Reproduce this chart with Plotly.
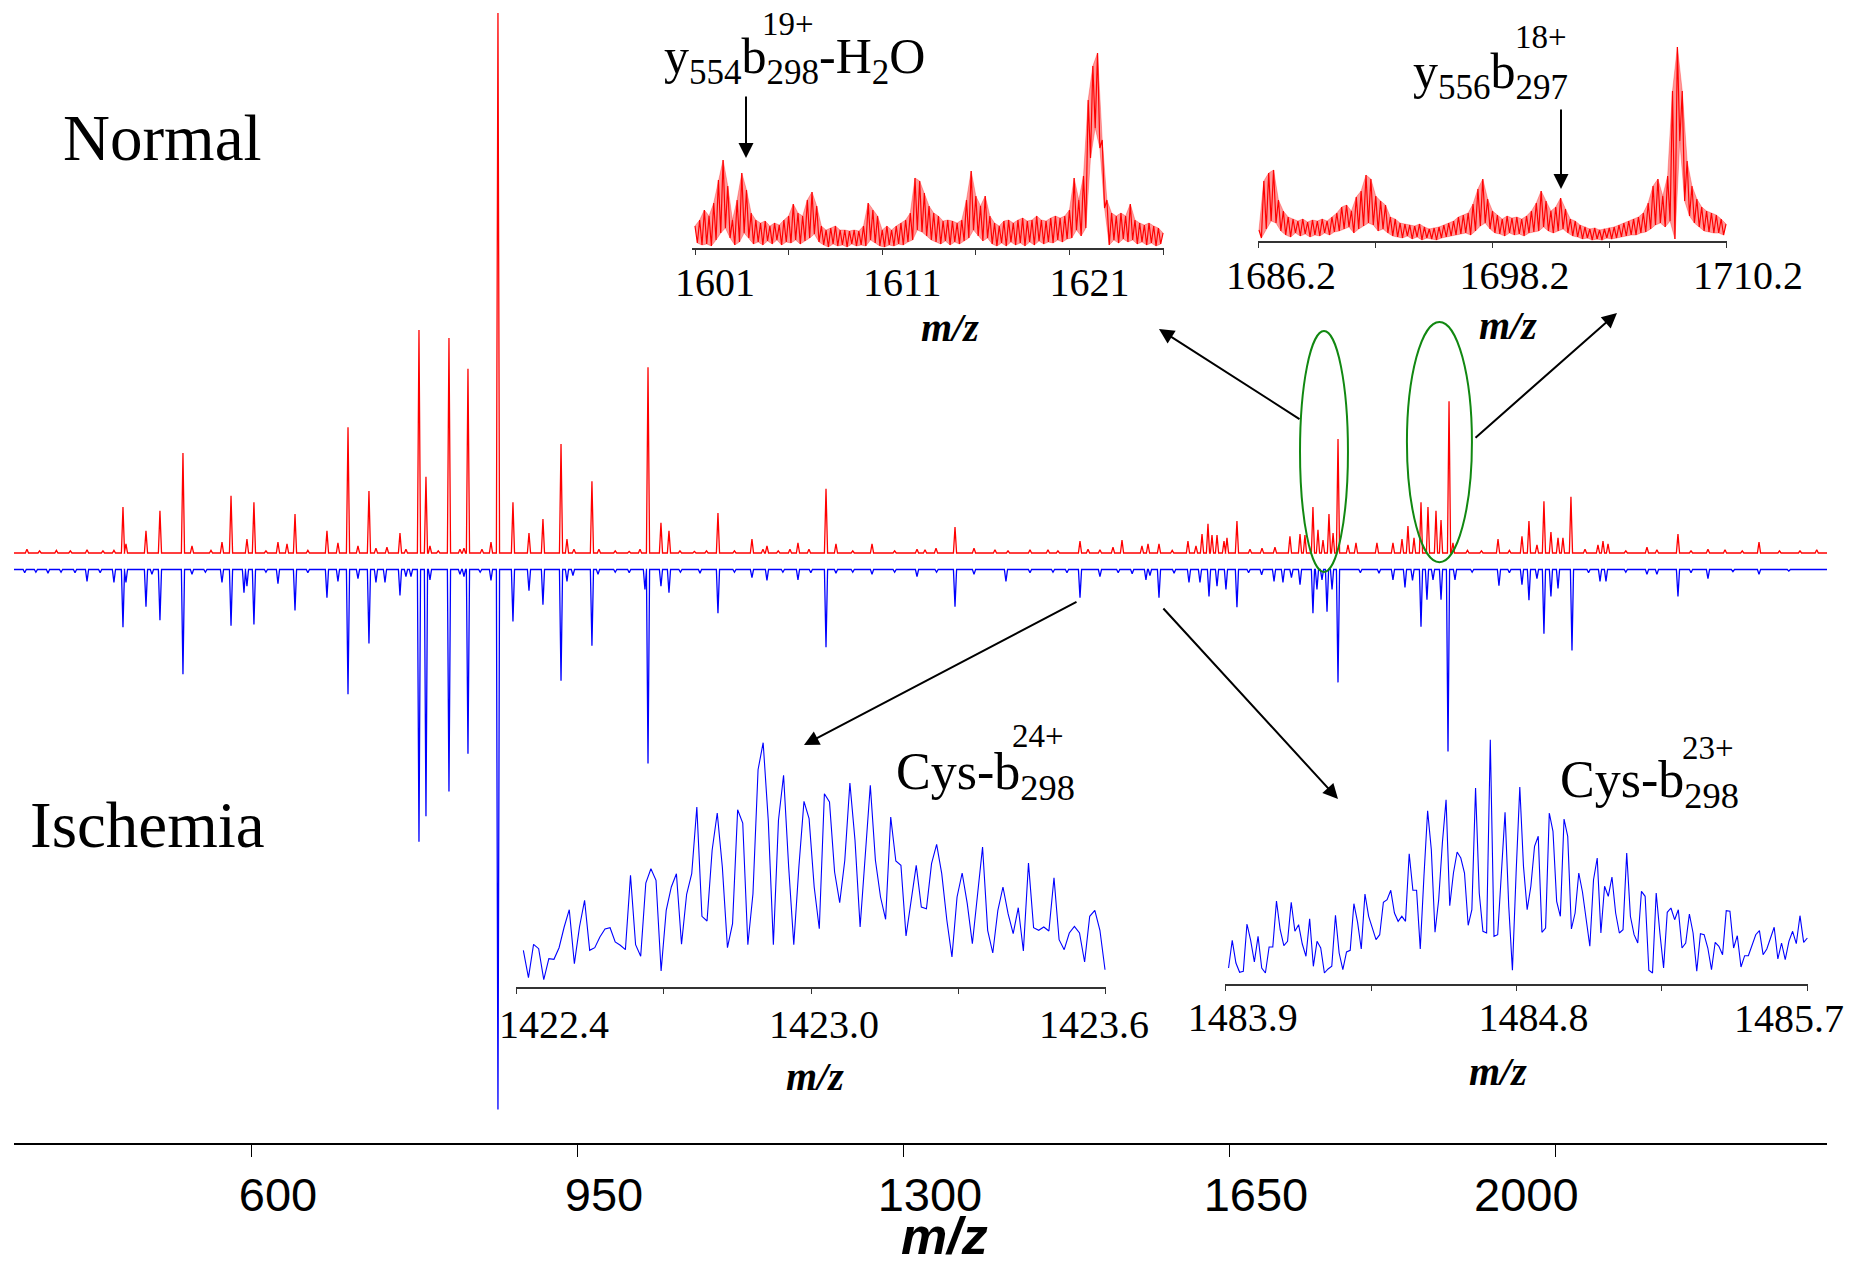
import plotly.graph_objects as go

W, H = 1854, 1261

# ---------------- main spectrum data (m/z, relative intensity %) ----------------
normal_mz = [358.4, 372, 390, 405, 422.9, 440, 451.8, 461.5, 464.7, 486.2, 501.2, 525.9, 535.6, 556, 567.8, 577.5,
             594.6, 602.1, 615, 627.9, 637.6, 646.2, 660, 680.5, 692.3, 703.1, 713.8, 725.6, 733.1, 744.9, 758.9,
             765.3, 779.3, 786.8, 791.1, 800, 811.5, 823.3, 827.6, 831.9, 846.9, 856.6, 864.1, 880.2, 897.4, 912.4,
             931.8, 938.2, 945.7, 965.0, 972.5, 990, 1005, 1016.6, 1025.2, 1039.1, 1047.7, 1059.5, 1075, 1088,
             1100.3, 1118, 1136.8, 1148.6, 1152.9, 1165, 1177.6, 1186.2, 1198.0, 1216.3, 1227.0, 1245, 1265.7, 1290,
             1314.0, 1322.6, 1334.4, 1354.8, 1375.2, 1397.7, 1411.7, 1435.3, 1454.6, 1465.3, 1489.0, 1497.6, 1510.4,
             1524.4, 1534.1, 1555.5, 1562.0, 1573.8, 1588, 1604.9, 1613.5, 1620.0, 1626.4, 1630.7, 1636.1, 1643.6,
             1646.8, 1657.5, 1671.5, 1684.4, 1698.3, 1714.4, 1725.2, 1730.5, 1739.1, 1744.5, 1749.9, 1756.3, 1760.7,
             1766.0, 1776.7, 1785.3, 1807.8, 1825.0, 1834.7, 1841.1, 1847.6, 1855.1, 1862.6, 1871.2, 1876.6, 1885.2,
             1889.4, 1905, 1920, 1937.8, 1950, 1963.5, 1971.0, 1979.6, 1987.1, 1994.6, 2002.2, 2007.5, 2016.1, 2031.2,
             2045.1, 2050.5, 2055.9, 2075, 2097.7, 2108.4, 2131.0, 2145, 2163.2, 2181.5, 2200, 2218.0, 2240, 2262.0,
             2280]
normal_int = [0.7, 0.4, 0.5, 0.4, 0.6, 0.4, 0.5, 8.5, 1.7, 4.1, 7.8, 18.5, 1.3, 0.5, 2.0, 10.6,
              2.6, 9.4, 0.4, 2.0, 1.7, 7.2, 0.5, 4.1, 1.9, 23.3, 1.3, 11.5, 0.9, 1.1, 3.7,
              0.7, 41.3, 14.1, 1.3, 0.4, 39.8, 0.7, 0.9, 34.1, 0.7, 2.0, 100, 9.4, 3.7, 6.3,
              20.2, 2.6, 0.7, 13.3, 0.7, 0.4, 0.3, 0.7, 34.4, 5.6, 4.1, 0.4, 0.3, 0.4,
              7.4, 0.4, 2.6, 0.7, 1.3, 0.4, 0.7, 1.9, 0.7, 11.9, 1.7, 0.4, 1.7, 0.4,
              0.7, 0.6, 0.9, 4.8, 0.9, 0.6, 0.4, 0.6, 0.6, 0.4, 2.2, 0.7, 0.6,
              1.1, 2.4, 1.3, 1.7, 1.7, 0.5, 2.2, 1.3, 3.5, 5.4, 3.3, 3.3, 2.2,
              2.8, 5.9, 0.7, 0.9, 1.1, 3.1, 3.5, 3.3, 8.5, 4.3, 2.4, 7.2, 3.7,
              21.1, 1.5, 1.9, 1.9, 1.9, 2.6, 5.0, 2.8, 9.4, 8.5, 7.8, 6.1, 28.1,
              1.9, 0.5, 0.4, 2.6, 0.5, 3.1, 5.9, 1.5, 9.6, 3.9, 2.8, 2.8, 10.4, 0.7,
              1.5, 2.2, 1.7, 0.4, 1.1, 0.6, 3.5, 0.4, 0.7, 0.6, 0.4, 2.0, 0.4, 0.4,
              0.6]

ischemia_mz = [356, 368, 381, 395, 410, 422.9, 437, 451.8, 461.5, 464.7, 486.2, 492.6, 501.2, 525.9, 535.6, 550,
               567.8, 577.5, 591.4, 594.6, 602.1, 615, 627.9, 646.2, 660, 680.5, 692.3, 703.1, 713.8, 725.6, 733.1,
               742.8, 758.9, 765.3, 770.7, 779.3, 786.8, 791.1, 811.5, 823.3, 827.6, 831.9, 845, 856.6, 864.1, 880.2,
               897.4, 912.4, 931.8, 938.2, 944.6, 965.0, 971.5, 990, 1005, 1021.9, 1025.2, 1039.1, 1047.7, 1060,
               1081.0, 1100.3, 1118, 1136.8, 1152.9, 1170, 1186.2, 1200, 1216.3, 1227.0, 1245, 1265.7, 1290, 1314.0,
               1335, 1354.8, 1375.2, 1409.5, 1435.3, 1460, 1475, 1489.0, 1510.4, 1530, 1545, 1559.8, 1564.1, 1573.8,
               1590, 1606.0, 1617.8, 1627.5, 1636.1, 1645.7, 1657.5, 1670, 1684, 1697.3, 1706.9, 1716, 1725.2, 1739.1,
               1743.4, 1748.8, 1754.2, 1759.6, 1766.0, 1790, 1810, 1825.0, 1837.9, 1846, 1855.1, 1861.5, 1868.0,
               1876.6, 1884.1, 1891.6, 1910, 1938.8, 1950, 1963.5, 1971.0, 1979.6, 1987.1, 1994.6, 2002.2, 2017.2,
               2035, 2047.3, 2053.7, 2075, 2097.7, 2108.4, 2131.0, 2145, 2163.2, 2190, 2218.0, 2250]
ischemia_int = [0.6, 0.5, 0.7, 0.5, 0.6, 2.2, 0.6, 2.4, 10.7, 2.4, 6.9, 0.9, 9.4, 19.4, 0.9, 0.5,
                2.4, 10.4, 4.3, 3.1, 10.2, 0.5, 2.6, 7.6, 0.6, 5.2, 2.2, 23.1, 1.7, 13.7, 2.4,
                2.4, 4.8, 1.3, 1.3, 50.4, 45.7, 1.9, 41.1, 0.9, 1.3, 34.1, 0.5, 2.0, 100, 9.6,
                3.9, 6.5, 20.6, 2.2, 1.1, 14.1, 0.9, 0.5, 0.6, 3.7, 35.9, 3.1, 4.3, 0.5,
                0.7, 8.1, 0.5, 1.5, 2.0, 0.5, 1.9, 0.6, 14.4, 0.7, 0.5, 0.9, 0.5, 1.3,
                0.5, 6.9, 0.9, 2.2, 0.6, 0.5, 0.6, 5.2, 1.3, 0.6, 0.8, 1.9, 1.1, 5.2,
                0.7, 2.4, 2.4, 5.0, 3.1, 3.7, 7.0, 0.6, 1.0, 2.2, 2.4, 1.5, 2.8, 8.1,
                3.7, 1.9, 7.8, 3.7, 20.9, 0.6, 0.7, 1.9, 3.3, 2.0, 10.6, 5.6, 1.9,
                5.6, 33.7, 1.9, 0.5, 3.0, 0.6, 2.8, 5.7, 1.7, 11.9, 5.0, 3.5, 15.0,
                0.6, 2.2, 2.2, 0.5, 0.9, 0.9, 5.0, 0.6, 1.7, 0.4, 0.9, 0.3]

main_ticks = [600, 950, 1300, 1650, 2000]
main_ticktext = ["600", "950", "1300", "1650", "2000"]

# ---------------- inset data ----------------
# inset 1 (Normal, m/z 1601-1626), sampled every 0.25: upper/lower envelope of the noisy profile
inset1_start, inset1_step = 1601.0, 0.25
inset1_upper = [22, 28, 38, 32, 45, 68, 88, 62, 28, 48,
                75, 58, 35, 28, 25, 27, 22, 25, 23, 28,
                32, 44, 35, 32, 48, 56, 42, 22, 18, 20,
                22, 18, 18, 17, 18, 17, 22, 45, 38, 32,
                18, 22, 18, 22, 25, 28, 35, 70, 67, 55,
                42, 35, 32, 27, 28, 27, 25, 28, 48, 77,
                52, 42, 52, 32, 25, 22, 27, 28, 25, 28,
                30, 27, 28, 32, 28, 27, 30, 32, 30, 32,
                38, 70, 48, 72, 148, 182, 195, 108, 48, 35,
                32, 35, 32, 44, 28, 25, 23, 25, 22, 20,
                15]
inset1_lower = [5, 3, 4, 2, 8, 15, 20, 10, 3, 6,
                15, 10, 4, 6, 3, 7, 4, 8, 3, 6,
                5, 8, 4, 7, 10, 14, 6, 3, 1, 4,
                2, 3, 1, 4, 2, 3, 2, 8, 5, 2,
                1, 3, 2, 4, 3, 6, 8, 18, 16, 12,
                8, 6, 4, 7, 3, 6, 4, 7, 10, 18,
                12, 7, 10, 4, 2, 5, 2, 6, 3, 5,
                2, 6, 3, 7, 4, 6, 5, 8, 6, 9,
                10, 18, 12, 20, 90, 120, 100, 40, 3, 8,
                5, 9, 6, 8, 4, 6, 3, 5, 2, 4]
inset1_ticks = [1601, 1606, 1611, 1616, 1621, 1626]
inset1_ticktext = ["1601", "", "1611", "", "1621", ""]

# inset 2 (Normal, m/z 1686.2-1710.2)
inset2_start, inset2_step = 1686.2, 0.25
inset2_upper = [11, 60, 68, 71, 41, 30, 24, 22, 20, 22,
                19, 21, 20, 22, 20, 24, 28, 34, 36, 30,
                44, 50, 66, 62, 45, 40, 36, 24, 22, 18,
                17, 16, 15, 17, 14, 12, 13, 14, 16, 18,
                20, 24, 26, 28, 37, 52, 62, 42, 30, 26,
                22, 25, 23, 24, 22, 25, 30, 38, 50, 40,
                30, 34, 43, 32, 22, 20, 16, 14, 12, 13,
                11, 12, 13, 14, 16, 18, 20, 22, 24, 28,
                38, 55, 62, 45, 65, 150, 194, 150, 80, 55,
                42, 34, 30, 28, 26, 22, 17]
inset2_lower = [3, 12, 20, 18, 10, 6, 4, 8, 5, 7,
                4, 6, 5, 8, 6, 9, 10, 12, 14, 8,
                12, 15, 18, 16, 10, 12, 8, 5, 4, 3,
                5, 2, 4, 1, 3, 2, 1, 3, 4, 5,
                6, 7, 8, 6, 10, 15, 18, 12, 8, 7,
                5, 8, 6, 7, 5, 8, 9, 10, 14, 10,
                8, 10, 12, 8, 5, 4, 2, 3, 1, 2,
                1, 3, 2, 3, 4, 5, 6, 6, 8, 9,
                12, 16, 18, 14, 20, 2, 100, 40, 25, 18,
                14, 10, 9, 8, 8, 6]
inset2_ticks = [1686.2, 1692.2, 1698.2, 1704.2, 1710.2]
inset2_ticktext = ["1686.2", "", "1698.2", "", "1710.2"]

# inset 3 (Ischemia, Cys-b298 24+, m/z 1422.41-1423.6)
inset3_first, inset3_last = 1422.413, 1423.6
inset3_int = [36.7, 9.3, 42.7, 38.3, 7.3, 28.3, 27.7, 39.3, 60, 77.3,
              23.3, 60, 86.7, 36.7, 39.3, 50, 58, 59.3, 45, 41.7,
              37.3, 111.7, 42.3, 30.7, 104, 118.3, 106.7, 16, 76.7, 100,
              113.3, 42.7, 92.7, 113.3, 180, 70.7, 66, 136.7, 174, 120,
              39.3, 63.3, 177.3, 164, 42.3, 93.3, 217.3, 244.3, 166.7, 42.3,
              166.7, 211.7, 120, 42.3, 120, 185.7, 168.3, 100, 58.3, 193.3,
              185, 115, 84.3, 126.7, 204, 146.7, 60, 126.7, 201.7, 126.7,
              90, 67.7, 170, 126, 121.7, 51, 86.7, 121.7, 80, 78.3,
              123.3, 142.7, 113.3, 66.7, 30, 90, 114, 83.3, 43.3, 90,
              140, 56.7, 34, 76.7, 100, 73.3, 53.3, 79.3, 36, 124,
              59.3, 56.7, 60, 56, 109.3, 47.3, 37.3, 54, 60.7, 54,
              25, 70.7, 76.7, 56.7, 17.3]
inset3_ticks = [1422.4, 1422.7, 1423.0, 1423.3, 1423.6]
inset3_ticktext = ["1422.4", "", "1423.0", "", "1423.6"]

# inset 4 (Ischemia, Cys-b298 23+, m/z 1483.91-1485.7)
inset4_first, inset4_last = 1483.909, 1485.7
inset4_int = [16, 43.7, 21, 11.7, 12.7, 60, 43.7, 22, 47.7, 16,
              11, 37, 37, 83, 54.3, 38.3, 42.7, 81.7, 52.7, 59.3,
              40, 27.7, 65.3, 17.7, 42.7, 36, 11, 15, 17.7, 68.7,
              31, 14.3, 32, 33.7, 80.3, 61.7, 35, 90, 67.7, 56,
              44.3, 49.3, 81.7, 84.3, 93.7, 71, 62.7, 67.7, 62.7, 130.3,
              93.7, 93.7, 35, 107.7, 173.3, 134.3, 51.7, 84.3, 141, 184.3,
              78.3, 111, 132, 126, 111, 58.7, 74.3, 196, 91, 52.7,
              51, 244.3, 47.7, 49.3, 111, 171.7, 77.7, 13.7, 111, 197,
              117.7, 74.3, 97.7, 137.7, 147.7, 51.7, 56, 171, 152.7, 82.7,
              67.7, 165, 147.7, 55, 71, 111, 92, 64.3, 37.7, 104.3,
              126, 51, 97.7, 87.7, 107, 71, 51, 54.3, 131, 67.7,
              49.3, 41, 92.7, 87.7, 13.7, 11, 91, 51, 16, 71.7,
              76, 64.3, 74.3, 36, 41, 70, 51, 12.7, 50.3, 49.3,
              36, 14.3, 41.7, 37.7, 29.3, 73.3, 72.7, 36, 48.3, 17,
              28.3, 28.3, 38.3, 49.3, 53.3, 29.3, 35, 46, 56.7, 25,
              41, 24.3, 42.7, 52.7, 40.3, 68.3, 41.7, 46]
inset4_ticks = [1483.9, 1484.35, 1484.8, 1485.25, 1485.7]
inset4_ticktext = ["1483.9", "", "1484.8", "", "1485.7"]

# ---------------- helpers ----------------
def PX(x):
    return x / W


def PY(y):
    return 1 - y / H


MZ_LO, MZ_HI = 344.5, 2291.0
BLUE_OFFSET = -3.06
HALF_W = 1.7


def stick_profile(mz, inten, sign=1.0, offset=0.0):
    xs, ys = [MZ_LO], [offset]
    for m, i in sorted(zip(mz, inten)):
        xs += [m - HALF_W, m, m + HALF_W]
        ys += [offset, offset + sign * i, offset]
    xs.append(MZ_HI)
    ys.append(offset)
    return xs, ys


def envelope_line(start, step, upper, lower):
    xs, ys = [], []
    for k, u in enumerate(upper):
        xs.append(start + step * k)
        ys.append(u)
        if k < len(lower):
            xs.append(start + step * (k + 0.5))
            ys.append(lower[k])
    return xs, ys


def grid(first, last, n):
    step = (last - first) / (n - 1)
    return [first + step * k for k in range(n)]


fig = go.Figure()

rx, ry = stick_profile(normal_mz, normal_int)
bx, by = stick_profile(ischemia_mz, ischemia_int, sign=-1.0, offset=BLUE_OFFSET)
fig.add_trace(go.Scatter(x=rx, y=ry, mode="lines", line=dict(color="#FF0000", width=1.3),
                         xaxis="x", yaxis="y", hoverinfo="skip", name="Normal"))
fig.add_trace(go.Scatter(x=bx, y=by, mode="lines", line=dict(color="#0000FF", width=1.3),
                         xaxis="x", yaxis="y", hoverinfo="skip", name="Ischemia"))


def add_red_inset(start, step, upper, lower, xa, ya):
    lx = [start + step * (k + 0.5) for k in range(len(lower))]
    ux = [start + step * k for k in range(len(upper))]
    fig.add_trace(go.Scatter(x=lx, y=lower, mode="lines", line=dict(color="rgba(255,0,0,0.5)", width=0.6),
                             xaxis=xa, yaxis=ya, hoverinfo="skip"))
    fig.add_trace(go.Scatter(x=ux, y=upper, mode="lines", line=dict(color="rgba(255,0,0,0.5)", width=0.6),
                             fill="tonexty", fillcolor="rgba(255,0,0,0.4)",
                             xaxis=xa, yaxis=ya, hoverinfo="skip"))
    zx, zy = envelope_line(start, step, upper, lower)
    fig.add_trace(go.Scatter(x=zx, y=zy, mode="lines", line=dict(color="#FF0000", width=1.2),
                             xaxis=xa, yaxis=ya, hoverinfo="skip"))


add_red_inset(inset1_start, inset1_step, inset1_upper, inset1_lower, "x2", "y2")
add_red_inset(inset2_start, inset2_step, inset2_upper, inset2_lower, "x3", "y3")
fig.add_trace(go.Scatter(x=grid(inset3_first, inset3_last, len(inset3_int)), y=inset3_int, mode="lines",
                         line=dict(color="#0000FF", width=1.1), xaxis="x4", yaxis="y4", hoverinfo="skip"))
fig.add_trace(go.Scatter(x=grid(inset4_first, inset4_last, len(inset4_int)), y=inset4_int, mode="lines",
                         line=dict(color="#0000FF", width=1.1), xaxis="x5", yaxis="y5", hoverinfo="skip"))

SERIF = "Liberation Serif, Times New Roman, serif"
SANS = "Liberation Sans, Arial, sans-serif"

# tick labels that sit off-centre from their tick in the reference are drawn separately
main_tt = [t if v != 2000 else "" for v, t in zip(main_ticks, main_ticktext)]
inset3_tt = [t if v == 1423.0 else "" for v, t in zip(inset3_ticks, inset3_ticktext)]
inset4_tt = [t if v != 1485.7 else "" for v, t in zip(inset4_ticks, inset4_ticktext)]


def inset_xaxis(dom, rng, tv, tt, anchor, shift, standoff):
    return dict(domain=dom, range=rng, anchor=anchor, showline=True, linecolor="#333333", linewidth=1.5,
                ticks="outside", ticklen=5, tickwidth=1, tickcolor="#333333", tickvals=tv, ticktext=tt,
                tickfont=dict(family=SERIF, size=40, color="black"), showgrid=False, zeroline=False,
                ticklabelshift=shift, ticklabelstandoff=standoff, automargin=False,
                ticklabeloverflow="allow")


def inset_yaxis(dom, rng, anchor):
    return dict(domain=dom, range=rng, anchor=anchor, visible=False, showgrid=False, zeroline=False,
                automargin=False)


fig.update_layout(
    width=W, height=H, margin=dict(l=0, r=0, t=0, b=0, pad=0, autoexpand=False), showlegend=False,
    autosize=False, paper_bgcolor="white", plot_bgcolor="rgba(0,0,0,0)",
    xaxis=dict(domain=[PX(14), PX(1827)], range=[MZ_LO, MZ_HI], anchor="y", showline=True,
               linecolor="black", linewidth=2, ticks="outside", ticklen=12, tickwidth=1, tickcolor="black",
               tickvals=main_ticks, ticktext=main_tt,
               tickfont=dict(family=SANS, size=47, color="black"), showgrid=False, zeroline=False,
               ticklabelstandoff=-2, ticklabelshift=26, automargin=False),
    yaxis=dict(domain=[PY(1143), 1], range=[(553 - 1143) / 5.4, 553 / 5.4], anchor="x", visible=False,
               automargin=False),
    xaxis2=inset_xaxis([PX(692), PX(1164)], [1600.84, 1626.05], inset1_ticks, inset1_ticktext, "y2", 20, -7),
    yaxis2=inset_yaxis([PY(248), PY(40)], [0, 208], "x2"),
    xaxis3=inset_xaxis([PX(1258), PX(1727)], [1686.15, 1710.25], inset2_ticks, inset2_ticktext, "y3", 22, -7),
    yaxis3=inset_yaxis([PY(241), PY(33)], [0, 208], "x3"),
    xaxis4=inset_xaxis([PX(516), PX(1106)], [1422.398, 1423.602], inset3_ticks, inset3_tt, "y4", 13, -4),
    yaxis4=inset_yaxis([PY(987), PY(727)], [0, 260], "x4"),
    xaxis5=inset_xaxis([PX(1225), PX(1808)], [1483.898, 1485.702], inset4_ticks, inset4_tt, "y5", 17, -8),
    yaxis5=inset_yaxis([PY(984), PY(724)], [0, 260], "x5"),
)

# green ellipses around the zoomed regions (main-axis data coords)
for x0, x1, y0, y1 in [(1725.2, 1776.7, -3.5, 41.1), (1840.0, 1909.8, -1.7, 42.8)]:
    fig.add_shape(type="circle", xref="x", yref="y", x0=x0, x1=x1, y0=y0, y1=y1,
                  line=dict(color="#118811", width=2))

annotations = []


def text_ann(text, x, y, size, family, xanchor="center", yanchor="middle"):
    annotations.append(dict(text=text, x=PX(x), y=PY(y), xref="paper", yref="paper", showarrow=False,
                            xanchor=xanchor, yanchor=yanchor, font=dict(family=family, size=size, color="black")))


def tick_ann(text, xval, xref, xshift, ypx, size, family):
    annotations.append(dict(text=text, x=xval, y=PY(ypx), xref=xref, yref="paper", showarrow=False,
                            xshift=xshift, xanchor="center", yanchor="middle",
                            font=dict(family=family, size=size, color="black")))


tick_ann(main_ticktext[4], main_ticks[4], "x", -29, 1194, 47, SANS)
tick_ann(inset3_ticktext[0], inset3_ticks[0], "x4", 37, 1024, 40, SERIF)
tick_ann(inset3_ticktext[4], inset3_ticks[4], "x4", -11, 1024, 40, SERIF)
tick_ann(inset4_ticktext[4], inset4_ticks[4], "x5", -18, 1018, 40, SERIF)

text_ann("Normal", 162, 138, 65, SERIF)
text_ann("Ischemia", 147, 825, 65, SERIF)
text_ann("y<sub>554</sub>b<sub>298</sub>-H<sub>2</sub>O", 662, 60, 50, SERIF, xanchor="left")
text_ann("19+", 788, 24, 33, SERIF)
text_ann("y<sub>556</sub>b<sub>297</sub>", 1411, 75, 50, SERIF, xanchor="left")
text_ann("18+", 1541, 37, 33, SERIF)
text_ann("Cys-b<sub>298</sub>", 894, 775, 52, SERIF, xanchor="left")
text_ann("24+", 1038, 736, 33, SERIF)
text_ann("Cys-b<sub>298</sub>", 1558, 783, 52, SERIF, xanchor="left")
text_ann("23+", 1708, 748, 33, SERIF)
text_ann("<b><i>m/z</i></b>", 944, 1236, 52, SANS)
for cx, cy in [(950, 328), (1508, 326), (815, 1076), (1498, 1071)]:
    text_ann("<b><i>m/z</i></b>", cx, cy, 40, SERIF)

# arrows: (tip x, tip y, tail x, tail y) in page pixels
arrows = [(1159, 329, 1301, 420), (1617, 313, 1474, 439), (804, 745, 1078, 601),
          (1338, 799, 1162, 607), (746, 158, 746, 95), (1561, 189, 1561, 108)]
for tx, ty, sx, sy in arrows:
    annotations.append(dict(text="", x=PX(tx), y=PY(ty), xref="paper", yref="paper", showarrow=True,
                            ax=sx - tx, ay=sy - ty, axref="pixel", ayref="pixel", arrowhead=2,
                            arrowsize=1.5, arrowwidth=2, arrowcolor="black", standoff=0))

fig.update_layout(annotations=annotations)
fig.write_html("out.html")
